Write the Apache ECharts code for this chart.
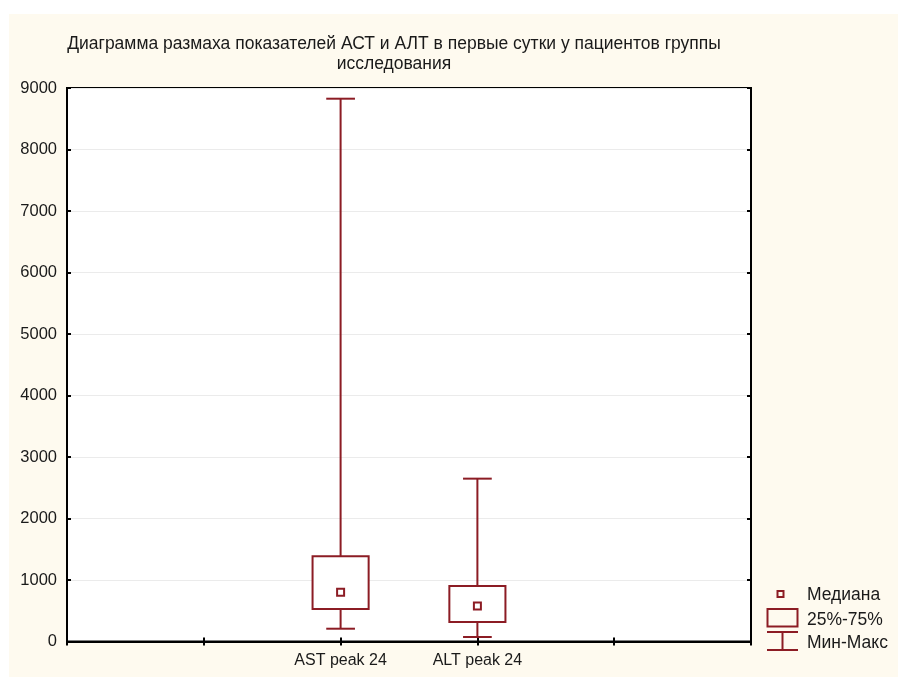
<!DOCTYPE html>
<html>
<head>
<meta charset="utf-8">
<script src="https://cdn.jsdelivr.net/npm/echarts@6/dist/echarts.min.js"></script>
<style>
html,body{margin:0;padding:0;background:#ffffff;}
#wrap{position:absolute;left:0;top:0;width:898px;height:677px;}
#chart{width:898px;height:677px;}
</style>
</head>
<body>
<div id="wrap"><div id="chart"></div></div>
<script>
// ---- data ----
const categories = ['', '', 'AST peak 24', 'ALT peak 24', '', ''];
const boxCategories = ['AST peak 24', 'ALT peak 24'];
const minVals = [208, 73];
const q1Vals = [529, 317];
const medianVals = [800, 577];
const q3Vals = [1386, 903];
const maxVals = [8826, 2648];
const yMin = 0, yMax = 9000, yInterval = 1000;
const titleText = 'Диаграмма размаха показателей АСТ и АЛТ в первые сутки у пациентов группы\nисследования';
const legendLabels = ['Медиана', '25%-75%', 'Мин-Макс'];

const RED = '#8c1c24';
const FONT = 'Liberation Sans, Arial, sans-serif';

const boxData = boxCategories.map((c, i) => [categories.indexOf(c), minVals[i], q1Vals[i], medianVals[i], q3Vals[i], maxVals[i]]);

const chart = echarts.init(document.getElementById('chart'), null, {renderer: 'canvas'});

function renderBox(params, api) {
  const xi = api.value(0);
  const pMin = api.coord([xi, api.value(1)]);
  const pQ1 = api.coord([xi, api.value(2)]);
  const pMed = api.coord([xi, api.value(3)]);
  const pQ3 = api.coord([xi, api.value(4)]);
  const pMax = api.coord([xi, api.value(5)]);
  const band = api.size([1, 0])[0];
  const bw = band * 0.41;
  const cw = band * 0.21;
  const cx = pMed[0];
  const st = {stroke: RED, lineWidth: 2, fill: null};
  return {
    type: 'group',
    children: [
      {type: 'line', shape: {x1: cx, y1: pMax[1], x2: cx, y2: pQ3[1]}, style: st},
      {type: 'line', shape: {x1: cx, y1: pQ1[1], x2: cx, y2: pMin[1]}, style: st},
      {type: 'line', shape: {x1: cx - cw / 2, y1: pMax[1], x2: cx + cw / 2, y2: pMax[1]}, style: st},
      {type: 'line', shape: {x1: cx - cw / 2, y1: pMin[1], x2: cx + cw / 2, y2: pMin[1]}, style: st},
      {type: 'rect', shape: {x: cx - bw / 2, y: pQ3[1], width: bw, height: pQ1[1] - pQ3[1]}, style: {stroke: RED, lineWidth: 2, fill: '#ffffff'}},
      {type: 'rect', shape: {x: cx - 3.5, y: pMed[1] - 3.5, width: 7, height: 7}, style: {stroke: RED, lineWidth: 2, fill: '#ffffff'}}
    ]
  };
}

const option = {
  backgroundColor: 'transparent',
  animation: false,
  title: {
    text: titleText,
    left: 389,
    top: 29,
    textAlign: 'center',
    textStyle: {fontFamily: FONT, fontSize: 17.5, fontWeight: 'normal', color: '#1a1a1a', lineHeight: 20}
  },
  grid: {
    left: 67, right: 147, top: 88, bottom: 35.5,
    show: true, backgroundColor: '#ffffff', borderColor: '#000000', borderWidth: 2
  },
  xAxis: [{
    type: 'category', data: categories, boundaryGap: false, position: 'bottom',
    axisLine: {show: true, lineStyle: {color: '#000', width: 2}},
    axisTick: {show: true, inside: true, length: 4, lineStyle: {color: '#000', width: 2}},
    axisLabel: {show: true, interval: 0, margin: 11, fontFamily: FONT, fontSize: 16, color: '#1a1a1a'},
    splitLine: {show: false}
  }, {
    type: 'category', data: categories, boundaryGap: false, position: 'top',
    axisLine: {show: true, lineStyle: {color: '#000', width: 2}},
    axisTick: {show: true, inside: true, length: 4, lineStyle: {color: '#000', width: 2}},
    axisLabel: {show: false}, splitLine: {show: false}
  }],
  yAxis: [{
    type: 'value', min: yMin, max: yMax, interval: yInterval, position: 'left',
    axisLine: {show: true, lineStyle: {color: '#000', width: 2}},
    axisTick: {show: true, inside: true, length: 4, lineStyle: {color: '#000', width: 2}},
    axisLabel: {margin: 10, fontFamily: FONT, fontSize: 16.5, color: '#1a1a1a', formatter: v => String(v)},
    splitLine: {show: true, lineStyle: {color: '#ebebeb', width: 1}}
  }, {
    type: 'value', min: yMin, max: yMax, interval: yInterval, position: 'right',
    axisLine: {show: true, lineStyle: {color: '#000', width: 2}},
    axisTick: {show: true, inside: true, length: 4, lineStyle: {color: '#000', width: 2}},
    axisLabel: {show: false}, splitLine: {show: false}
  }],
  series: [{
    type: 'custom',
    xAxisIndex: 0, yAxisIndex: 0,
    renderItem: renderBox,
    encode: {x: 0, y: [1, 2, 3, 4, 5]},
    data: boxData,
    z: 5
  }],
  graphic: [
    {type: 'rect', z: -10, silent: true, shape: {x: 9, y: 14, width: 889, height: 663}, style: {fill: '#fefaef'}},
    {type: 'rect', shape: {x: 777.5, y: 591, width: 6, height: 6}, style: {stroke: RED, lineWidth: 2, fill: '#fefaef'}},
    {type: 'rect', shape: {x: 767.5, y: 609, width: 30, height: 17.5}, style: {stroke: RED, lineWidth: 2, fill: '#fefaef'}},
    {type: 'line', shape: {x1: 767, y1: 632, x2: 798, y2: 632}, style: {stroke: RED, lineWidth: 2}},
    {type: 'line', shape: {x1: 782.5, y1: 632, x2: 782.5, y2: 650}, style: {stroke: RED, lineWidth: 2}},
    {type: 'line', shape: {x1: 767, y1: 650, x2: 798, y2: 650}, style: {stroke: RED, lineWidth: 2}},
    {type: 'text', x: 807, y: 595, style: {text: legendLabels[0], font: '17.5px ' + FONT, fill: '#1a1a1a', verticalAlign: 'middle'}},
    {type: 'text', x: 807, y: 620, style: {text: legendLabels[1], font: '17.5px ' + FONT, fill: '#1a1a1a', verticalAlign: 'middle'}},
    {type: 'text', x: 807, y: 643, style: {text: legendLabels[2], font: '17.5px ' + FONT, fill: '#1a1a1a', verticalAlign: 'middle'}}
  ]
};
chart.setOption(option);
</script>
</body>
</html>
